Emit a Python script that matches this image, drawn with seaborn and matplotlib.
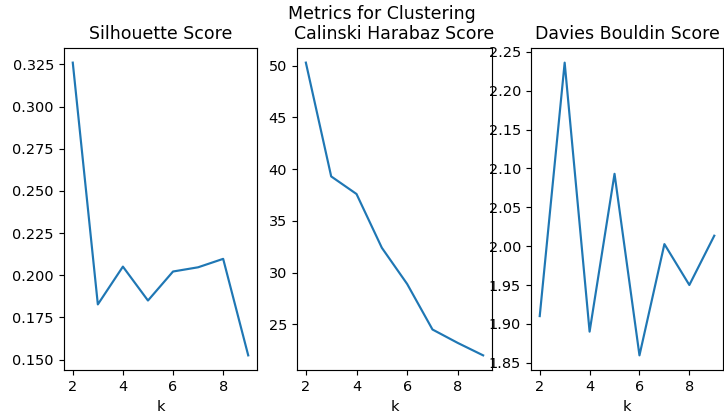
import matplotlib
matplotlib.use("Agg")
import matplotlib.pyplot as plt
import seaborn as sns
import pandas as pd

k_values = [2, 3, 4, 5, 6, 7, 8, 9]
silhouette = [0.326, 0.1827, 0.2051, 0.185, 0.2022, 0.2047, 0.2097, 0.1525]
calinski = [50.3, 39.3, 37.6, 32.4, 28.9, 24.5, 23.2, 22.0]
davies = [1.910, 2.236, 1.890, 2.093, 1.8595, 2.0026, 1.950, 2.0134]

titles = ["Silhouette Score", "Calinski Harabaz Score", "Davies Bouldin Score"]
series = [silhouette, calinski, davies]

dpi = 104
fig = plt.figure(figsize=(724 / dpi, 414 / dpi), dpi=dpi)
W, H = 724, 414
boxes = [(64, 257), (297, 492), (531, 723)]
top, bottom = 48, 370
axes = []
for (l, r) in boxes:
    ax = fig.add_axes([l / W, 1 - bottom / H, (r - l) / W, (bottom - top) / H])
    axes.append(ax)

for ax, title, vals in zip(axes, titles, series):
    df = pd.DataFrame({"k": k_values, "score": vals})
    sns.lineplot(data=df, x="k", y="score", ax=ax, color="#1f77b4", linewidth=1.5)
    ax.set_title(title, fontsize=12)
    ax.set_xlabel("k")
    ax.set_ylabel("")
    ax.set_xticks([2, 4, 6, 8])

fig.suptitle("Metrics for Clustering", x=381.5 / W, y=1 - 5 / H, va="top", fontsize=12)
fig.savefig("out.png", dpi=dpi)
